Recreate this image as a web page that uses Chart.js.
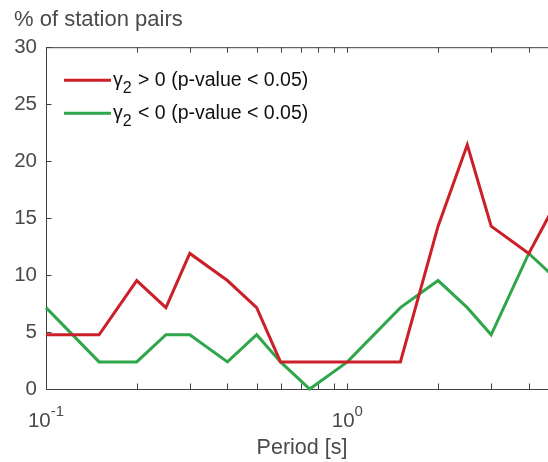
<!DOCTYPE html>
<html>
<head>
<meta charset="utf-8">
<script src="https://cdn.jsdelivr.net/npm/chart.js@4"></script>
<style>
  html, body { margin:0; padding:0; background:#fff; overflow:hidden; }
  #wrap { width:560px; height:462px; }
</style>
</head>
<body>
<div id="wrap"><canvas id="periodChart" width="560" height="462"></canvas></div>
<script>
// ===== Data =====
const PERIODS  = [0.1, 0.15, 0.2, 0.25, 0.3, 0.4, 0.5, 0.6, 0.75, 1, 1.5, 2, 2.5, 3, 4, 5];
const POSITIVE = [4.76, 4.76, 9.52, 7.14, 11.9, 9.52, 7.14, 2.38, 2.38, 2.38, 2.38, 14.29, 21.43, 14.29, 11.9, 16.67];
const NEGATIVE = [7.14, 2.38, 2.38, 4.76, 4.76, 2.38, 4.76, 2.38, 0, 2.38, 7.14, 9.52, 7.14, 4.76, 11.9, 9.52];

const X_TICKS  = [0.1, 0.2, 0.3, 0.4, 0.5, 0.6, 0.7, 0.8, 0.9, 1, 2, 3, 4, 5];
const X_LABELS = [{ v:0.1, exp:'-1' }, { v:1, exp:'0' }];
const Y_TICKS  = [0, 5, 10, 15, 20, 25, 30];

const LEGEND = [
  { sym:'γ', sub:'2', rest:' > 0 (p-value < 0.05)' },
  { sym:'γ', sub:'2', rest:' < 0 (p-value < 0.05)' },
];

const FONT = '"Liberation Sans", Arial, Helvetica, sans-serif';
const AXIS = '#404040';
const TEXT = '#4a4a4a';
const RED = '#cb1f2a';
const GREEN = '#2fa64a';

// ===== Matlab-ish box with inward ticks =====
const boxAxes = {
  id: 'boxAxes',
  beforeDatasetsDraw(chart) {
    const { ctx, chartArea: a, scales: { x, y } } = chart;
    const tl = 5.5;
    ctx.save();
    ctx.strokeStyle = AXIS;
    ctx.lineWidth = 1;
    ctx.beginPath();
    ctx.moveTo(a.left + .5, a.top + .5); ctx.lineTo(a.right, a.top + .5);
    ctx.moveTo(a.left + .5, a.top); ctx.lineTo(a.left + .5, a.bottom + .5);
    ctx.moveTo(a.left, a.bottom + .5); ctx.lineTo(a.right, a.bottom + .5);
    ctx.moveTo(a.right - .5, a.top); ctx.lineTo(a.right - .5, a.bottom);
    X_TICKS.forEach(v => {
      const px = Math.round(x.getPixelForValue(v)) + .5;
      ctx.moveTo(px, a.bottom); ctx.lineTo(px, a.bottom - tl);
      ctx.moveTo(px, a.top); ctx.lineTo(px, a.top + tl);
    });
    Y_TICKS.forEach(v => {
      const py = Math.round(y.getPixelForValue(v)) + .5;
      ctx.moveTo(a.left, py); ctx.lineTo(a.left + tl, py);
      ctx.moveTo(a.right, py); ctx.lineTo(a.right - tl, py);
    });
    ctx.stroke();

    // x tick labels with superscript exponent
    ctx.fillStyle = TEXT;
    ctx.textBaseline = 'alphabetic';
    ctx.textAlign = 'left';
    X_LABELS.forEach(t => {
      const px = x.getPixelForValue(t.v);
      ctx.font = `20.5px ${FONT}`;
      const wb = ctx.measureText('10').width;
      ctx.font = `15px ${FONT}`;
      const we = ctx.measureText(t.exp).width;
      const x0 = px - (wb + we) / 2;
      ctx.font = `20.5px ${FONT}`;
      ctx.fillText('10', x0, a.bottom + 37.5);
      ctx.font = `15px ${FONT}`;
      ctx.fillText(t.exp, x0 + wb, a.bottom + 27);
    });
    ctx.restore();
  },
  afterDraw(chart) {
    const { ctx, chartArea: a } = chart;
    ctx.save();
    LEGEND.forEach((item, i) => {
      const ds = chart.data.datasets[i];
      const ly = a.top + 33 + i * 33;
      ctx.strokeStyle = ds.borderColor;
      ctx.lineWidth = 3;
      ctx.beginPath();
      ctx.moveTo(a.left + 18, ly); ctx.lineTo(a.left + 65, ly);
      ctx.stroke();
      ctx.fillStyle = '#111';
      ctx.textBaseline = 'alphabetic';
      ctx.textAlign = 'left';
      let tx = a.left + 67;
      ctx.font = `19.5px ${FONT}`;
      ctx.fillText(item.sym, tx, ly + 6);
      tx += ctx.measureText(item.sym).width;
      ctx.font = `16px ${FONT}`;
      ctx.fillText(item.sub, tx, ly + 13);
      tx += ctx.measureText(item.sub).width + 1;
      ctx.font = `19.5px ${FONT}`;
      ctx.fillText(item.rest, tx, ly + 6);
    });
    ctx.restore();
  }
};

const toPoints = ys => PERIODS.map((p, i) => ({ x:p, y:ys[i] }));

new Chart(document.getElementById('periodChart'), {
  type:'line',
  data:{
    datasets:[
      { label:'γ2 > 0 (p-value < 0.05)', data:toPoints(POSITIVE), borderColor:RED, borderWidth:3, pointRadius:0, tension:0, clip:false },
      { label:'γ2 < 0 (p-value < 0.05)', data:toPoints(NEGATIVE), borderColor:GREEN, borderWidth:3, pointRadius:0, tension:0, clip:false },
    ]
  },
  options:{
    responsive:false, animation:false,
    layout:{ padding:{ left:14, right:2, top:0, bottom:0 } },
    plugins:{
      legend:{ display:false },
      tooltip:{ enabled:false },
      title:{
        display:true, text:'% of station pairs', align:'start', color:TEXT,
        font:{ family:FONT, size:22, weight:'normal' },
        padding:{ top:6.5, bottom:14.3 }
      }
    },
    scales:{
      x:{
        type:'logarithmic', min:0.1, max:5,
        grid:{ display:false, drawTicks:false }, border:{ display:false },
        ticks:{ display:false },
        title:{ display:true, text:'Period [s]', color:TEXT, font:{ family:FONT, size:21.5 }, padding:{ top:0, bottom:1 } },
        afterFit(s){ s.height = 73; }
      },
      y:{
        min:0, max:30,
        grid:{ display:false, drawTicks:false }, border:{ display:false },
        afterBuildTicks(s){ s.ticks = Y_TICKS.map(v => ({ value:v })); },
        ticks:{ color:TEXT, font:{ family:FONT, size:20.5 }, padding:9 },
        afterFit(s){ s.width = 32; }
      }
    }
  },
  plugins:[boxAxes]
});
</script>
</body>
</html>
